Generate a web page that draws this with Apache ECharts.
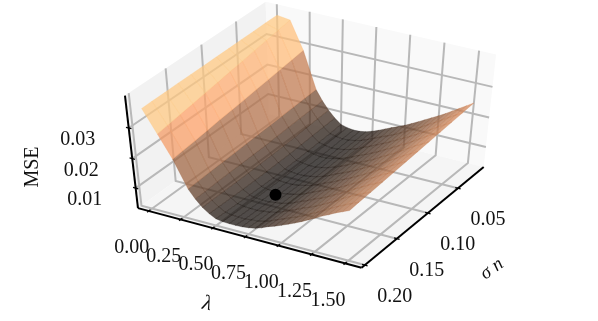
<!DOCTYPE html>
<html>
<head>
<meta charset="utf-8">
<title>MSE surface</title>
<script src="https://cdn.jsdelivr.net/npm/echarts@6/dist/echarts.min.js"></script>
<style>
html, body { margin: 0; padding: 0; background: #fff; }
#main { width: 598px; height: 321px; }
</style>
</head>
<body>
<div id="main"></div>
<script>
// values
var lambdaVals = [0, 0.1, 0.2, 0.3, 0.35, 0.4, 0.45, 0.5, 0.55, 0.6, 0.65, 0.7, 0.75, 0.8, 0.85, 0.9, 0.95, 1.0, 1.05, 1.1, 1.15, 1.2, 1.25, 1.3, 1.35, 1.4, 1.45, 1.5];
var sigmaVals = [0.006, 0.024, 0.042, 0.06, 0.078, 0.096, 0.114, 0.132, 0.15, 0.168, 0.186, 0.2];
// one row per lambda, one column per sigma
var mseRows = [
    [.0368,.0368,.0367,.0367,.0366,.0366,.0365,.0365,.0365,.0364,.0364,.0363],
    [.0362,.0356,.0349,.0343,.0336,.0330,.0323,.0317,.0310,.0304,.0298,.0293],
    [.0275,.0270,.0265,.0260,.0255,.0250,.0245,.0241,.0235,.0230,.0226,.0222],
    [.0155,.0153,.0151,.0149,.0147,.0145,.0143,.0141,.0139,.0137,.0135,.0133],
    [.0122,.0120,.0118,.0116,.0114,.0112,.0111,.0110,.0109,.0108,.0106,.0105],
    [.0095,.0093,.0091,.0088,.0086,.0085,.0084,.0083,.0082,.0082,.0082,.0082],
    [.0073,.0071,.0069,.0067,.0065,.0064,.0063,.0063,.0063,.0064,.0065,.0066],
    [.0056,.0053,.0051,.0049,.0048,.0047,.0047,.0048,.0049,.0050,.0052,.0054],
    [.0050,.0048,.0046,.0045,.0044,.0043,.0043,.0043,.0044,.0046,.0048,.0050],
    [.0047,.0045,.0043,.0042,.0041,.0041,.0041,.0042,.0043,.0045,.0047,.0049],
    [.0048,.0046,.0044,.0042,.0041,.0041,.0041,.0041,.0042,.0044,.0046,.0049],
    [.0052,.0050,.0048,.0046,.0045,.0044,.0044,.0045,.0046,.0047,.0049,.0050],
    [.0059,.0056,.0054,.0052,.0050,.0049,.0049,.0049,.0049,.0050,.0051,.0053],
    [.0068,.0065,.0062,.0059,.0058,.0056,.0055,.0055,.0055,.0055,.0056,.0057],
    [.0078,.0075,.0072,.0069,.0067,.0065,.0064,.0064,.0064,.0064,.0064,.0065],
    [.0088,.0085,.0082,.0079,.0077,.0076,.0075,.0075,.0074,.0074,.0074,.0075],
    [.0097,.0094,.0092,.0089,.0087,.0085,.0084,.0084,.0083,.0083,.0083,.0083],
    [.0107,.0104,.0102,.0099,.0098,.0095,.0094,.0094,.0094,.0094,.0093,.0092],
    [.0118,.0115,.0113,.0110,.0108,.0106,.0105,.0104,.0103,.0103,.0102,.0102],
    [.0130,.0127,.0125,.0122,.0119,.0118,.0116,.0114,.0114,.0113,.0112,.0112],
    [.0142,.0139,.0137,.0134,.0132,.0130,.0128,.0126,.0126,.0125,.0124,.0123],
    [.0154,.0151,.0149,.0146,.0144,.0142,.0140,.0139,.0138,.0137,.0136,.0135],
    [.0166,.0164,.0161,.0158,.0156,.0154,.0152,.0151,.0150,.0149,.0148,.0147],
    [.0179,.0177,.0174,.0172,.0170,.0168,.0166,.0165,.0164,.0163,.0162,.0160],
    [.0193,.0191,.0188,.0186,.0184,.0181,.0179,.0177,.0176,.0175,.0173,.0171],
    [.0207,.0205,.0202,.0200,.0198,.0195,.0193,.0191,.0189,.0187,.0185,.0183],
    [.0221,.0218,.0215,.0213,.0210,.0207,.0205,.0202,.0200,.0198,.0195,.0193],
    [.0235,.0232,.0229,.0226,.0223,.0220,.0217,.0214,.0211,.0208,.0206,.0203]
];
var minimumPoint = [0.64, 0.138, 0.0045];
var lambdaTicks = [0, 0.25, 0.5, 0.75, 1.0, 1.25, 1.5];
var sigmaTicks = [0.05, 0.10, 0.15, 0.20];
var mseTicks = [0.01, 0.02, 0.03];

var lambdaLim = [-0.0854, 1.6217];
var sigmaLim = [0.006, 0.205];
var mseLim = [0.003, 0.0402];
// colour range of the copper map
var colorLim = [0.003, 0.033];

// camera, same idea as mplot3d: unit cube seen from elev/azim
var elev = 45 * Math.PI / 180, azim = 30 * Math.PI / 180, dist = 10;
var scaleX = 2620, scaleY = 1590, centerX = 313, centerY = 133;
var surfaceAlpha = 0.72;

function project(lam, sig, mse) {
    var x = (sig - sigmaLim[0]) / (sigmaLim[1] - sigmaLim[0]) - 0.5;
    var y = (lam - lambdaLim[0]) / (lambdaLim[1] - lambdaLim[0]) - 0.5;
    var z = (mse - mseLim[0]) / (mseLim[1] - mseLim[0]) - 0.5;
    var se = Math.sin(elev), ce = Math.cos(elev), sa = Math.sin(azim), ca = Math.cos(azim);
    var sx = -sa * x + ca * y;
    var sy = -se * ca * x - se * sa * y + ce * z;
    var depth = dist - (ce * ca * x + ce * sa * y + se * z);
    return [centerX + scaleX * sx / depth, centerY - scaleY * sy / depth, depth];
}

function copper(t) {
    t = Math.max(0, Math.min(1, t));
    return [Math.min(255, 255 * 1.25 * t), 255 * 0.7812 * t, 255 * 0.4975 * t];
}

var lamLo = lambdaLim[0], lamHi = lambdaLim[1];
var sigLo = sigmaLim[0], sigHi = sigmaLim[1];
var mseLo = mseLim[0], mseHi = mseLim[1];

var panes = [
    { fill: '#f2f2f2', pts: [[lamLo, sigLo, mseLo], [lamLo, sigHi, mseLo], [lamLo, sigHi, mseHi], [lamLo, sigLo, mseHi]] },
    { fill: '#f9f9f9', pts: [[lamLo, sigLo, mseLo], [lamHi, sigLo, mseLo], [lamHi, sigLo, mseHi], [lamLo, sigLo, mseHi]] },
    { fill: '#f5f5f5', pts: [[lamLo, sigLo, mseLo], [lamHi, sigLo, mseLo], [lamHi, sigHi, mseLo], [lamLo, sigHi, mseLo]] }
];

var gridPaths = [];
lambdaTicks.forEach(function(v) {
    gridPaths.push([[v, sigHi, mseLo], [v, sigLo, mseLo], [v, sigLo, mseHi]]);
});
sigmaTicks.forEach(function(v) {
    gridPaths.push([[lamHi, v, mseLo], [lamLo, v, mseLo], [lamLo, v, mseHi]]);
});
mseTicks.forEach(function(v) {
    gridPaths.push([[lamLo, sigHi, v], [lamLo, sigLo, v], [lamHi, sigLo, v]]);
});

// facets, far ones first
var facets = [];
for (var i = 0; i < lambdaVals.length - 1; i++) {
    for (var j = 0; j < sigmaVals.length - 1; j++) {
        var corners = [
            [lambdaVals[i], sigmaVals[j], mseRows[i][j]],
            [lambdaVals[i + 1], sigmaVals[j], mseRows[i + 1][j]],
            [lambdaVals[i + 1], sigmaVals[j + 1], mseRows[i + 1][j + 1]],
            [lambdaVals[i], sigmaVals[j + 1], mseRows[i][j + 1]]
        ];
        var avg = 0, depth = 0;
        corners.forEach(function(c) {
            avg += c[2] / 4;
            depth += project(c[0], c[1], c[2])[2] / 4;
        });
        facets.push({ pts: corners, t: (avg - colorLim[0]) / (colorLim[1] - colorLim[0]), depth: depth });
    }
}
facets.sort(function(a, b) { return b.depth - a.depth; });

var axisPaths = [
    [[lamLo, sigHi, mseHi], [lamLo, sigHi, mseLo]],
    [[lamLo, sigHi, mseLo], [lamHi, sigHi, mseLo]],
    [[lamHi, sigHi, mseLo], [lamHi, sigLo, mseLo]]
];
var tickPaths = [];
var sigTickLen = 0.012 * (sigHi - sigLo), lamTickLen = 0.012 * (lamHi - lamLo);
lambdaTicks.forEach(function(v) {
    tickPaths.push([[v, sigHi - sigTickLen, mseLo], [v, sigHi + sigTickLen, mseLo]]);
});
sigmaTicks.forEach(function(v) {
    tickPaths.push([[lamHi - lamTickLen, v, mseLo], [lamHi + lamTickLen, v, mseLo]]);
});
mseTicks.forEach(function(v) {
    tickPaths.push([[lamLo - lamTickLen, sigHi, v], [lamLo + lamTickLen, sigHi, v]]);
});

var tickFont = '20px "Liberation Serif"';
var labels = [];
lambdaTicks.forEach(function(v) {
    labels.push({ at: [v, sigHi, mseLo], dx: -17, dy: 37, text: v.toFixed(2), font: tickFont });
});
sigmaTicks.forEach(function(v) {
    labels.push({ at: [lamHi, v, mseLo], dx: 30, dy: 32, text: v.toFixed(2), font: tickFont });
});
mseTicks.forEach(function(v) {
    labels.push({ at: [lamLo, sigHi, v], dx: -51, dy: 12, text: v.toFixed(2), font: tickFont });
});

function toPixels(api, pts) {
    return pts.map(function(p) {
        var q = project(p[0], p[1], p[2]);
        return api.coord([q[0], q[1]]);
    });
}

function indexData(list) {
    return list.map(function(d, k) { return [k]; });
}

function pathSeries(list, color, width, z) {
    return {
        type: 'custom',
        coordinateSystem: 'cartesian2d',
        silent: true,
        z: z,
        data: indexData(list),
        renderItem: function(params, api) {
            return {
                type: 'polyline',
                shape: { points: toPixels(api, list[params.dataIndex]) },
                style: { stroke: color, lineWidth: width, fill: null }
            };
        }
    };
}

var dotPos = project(minimumPoint[0], minimumPoint[1], minimumPoint[2]);

var settings = {
    animation: false,
    grid: { left: 0, right: 0, top: 0, bottom: 0 },
    xAxis: { type: 'value', min: 0, max: 598, show: false },
    yAxis: { type: 'value', min: 0, max: 321, inverse: true, show: false },
    series: [
        {
            type: 'custom',
            coordinateSystem: 'cartesian2d',
            silent: true,
            z: 1,
            data: indexData(panes),
            renderItem: function(params, api) {
                var pane = panes[params.dataIndex];
                return {
                    type: 'polygon',
                    shape: { points: toPixels(api, pane.pts) },
                    style: { fill: pane.fill }
                };
            }
        },
        pathSeries(gridPaths, '#b8b8b8', 2, 2),
        {
            type: 'custom',
            coordinateSystem: 'cartesian2d',
            silent: true,
            z: 3,
            data: indexData(facets),
            renderItem: function(params, api) {
                var f = facets[params.dataIndex];
                var c = copper(f.t);
                var rgba = 'rgba(' + Math.round(c[0]) + ',' + Math.round(c[1]) + ',' + Math.round(c[2]) + ',' + surfaceAlpha + ')';
                return {
                    type: 'polygon',
                    shape: { points: toPixels(api, f.pts) },
                    // thin stroke closes the white seams between facets
                    style: { fill: rgba, stroke: rgba, lineWidth: 0.4 }
                };
            }
        },
        pathSeries(axisPaths, '#000', 2, 4),
        pathSeries(tickPaths, '#000', 1.3, 4),
        {
            type: 'scatter',
            z: 5,
            silent: true,
            symbolSize: 12,
            itemStyle: { color: '#000', opacity: 1 },
            data: [[dotPos[0], dotPos[1]]]
        },
        {
            type: 'custom',
            coordinateSystem: 'cartesian2d',
            silent: true,
            z: 6,
            data: indexData(labels),
            renderItem: function(params, api) {
                var l = labels[params.dataIndex];
                var q = project(l.at[0], l.at[1], l.at[2]);
                var pos = api.coord([q[0] + l.dx, q[1] + l.dy]);
                return {
                    type: 'text',
                    x: pos[0],
                    y: pos[1],
                    style: { text: l.text, font: l.font, fill: '#111', align: 'center', verticalAlign: 'middle' }
                };
            }
        }
    ],
    graphic: [
        { type: 'text', x: 33, y: 167, rotation: Math.PI / 2, silent: true,
          style: { text: 'MSE', font: '20px "Liberation Serif"', fill: '#111', align: 'center', verticalAlign: 'middle' } },
        { type: 'text', x: 207, y: 304, rotation: -0.2, silent: true,
          style: { text: 'λ', font: 'italic 21px "Liberation Serif"', fill: '#111', align: 'center', verticalAlign: 'middle' } },
        { type: 'text', x: 492, y: 269, rotation: 0.62, silent: true,
          style: { text: 'σ n', font: 'italic 19px "Liberation Serif"', fill: '#111', align: 'center', verticalAlign: 'middle' } }
    ]
};

var myCharts = echarts.init(document.getElementById('main'), null, { renderer: 'canvas' });
myCharts.setOption(settings);
</script>
</body>
</html>
